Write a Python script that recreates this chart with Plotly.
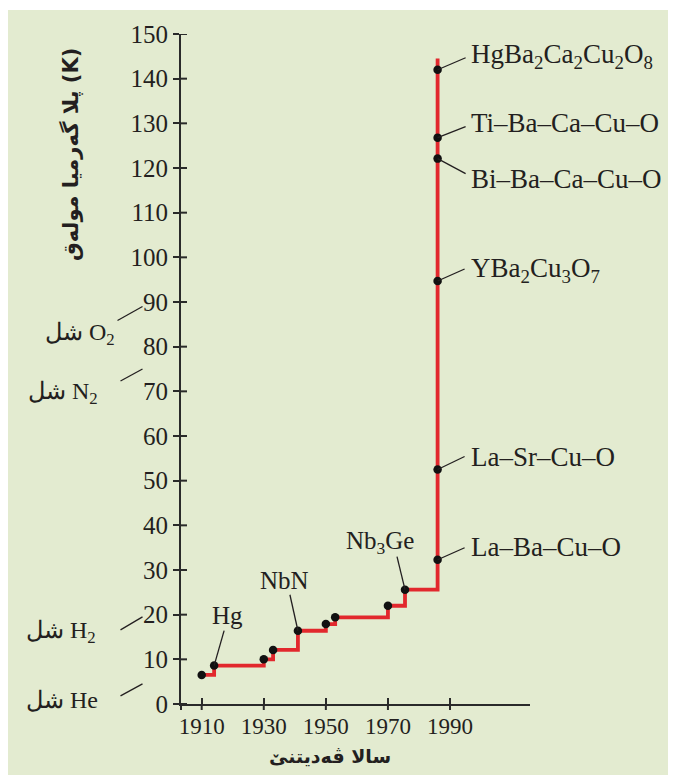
import plotly.graph_objects as go

# ---------------- data ----------------
record_years = [1910, 1914, 1930, 1933, 1941, 1950, 1953, 1970, 1975.5,
                1986, 1986, 1986, 1986, 1986, 1986]
record_temps = [6.5, 8.6, 10.0, 12.1, 16.4, 17.9, 19.4, 22.0, 25.6,
                32.3, 52.5, 94.7, 122.1, 126.8, 142.0]
line_top = 144.5

named_labels = ["Hg", "NbN", "Nb<sub>3</sub>Ge",
                "La–Ba–Cu–O", "La–Sr–Cu–O", "YBa<sub>2</sub>Cu<sub>3</sub>O<sub>7</sub>",
                "Bi–Ba–Ca–Cu–O", "Ti–Ba–Ca–Cu–O",
                "HgBa<sub>2</sub>Ca<sub>2</sub>Cu<sub>2</sub>O<sub>8</sub>"]
named_index = [1, 4, 8, 9, 10, 11, 12, 13, 14]

liquid_labels = ["شل He", "شل H<sub>2</sub>", "شل N<sub>2</sub>", "شل O<sub>2</sub>"]
liquid_temps = [4.5, 19.5, 75.0, 89.0]

x_ticks = [1910, 1930, 1950, 1970, 1990]
y_ticks = list(range(0, 151, 10))

y_title = "پلا گەرمیا مولەق (<b>K</b>)"
x_title = "سالا ڤەدیتنێ"

# ---------------- style ----------------
BG = "#e3ebd0"
INK = "#231f20"
AX = "#2a2a2a"
RED = "#e2282d"
SERIF = "Liberation Serif, Times New Roman, serif"
ARAB = "DejaVu Sans, Noto Sans, sans-serif"

L_REF, B_REF = 181, 704
W, H = 349, 670
FIG_W, FIG_H = 668, 767          # page body adds an 8px margin
L, T = L_REF - 8, 26
R, B = FIG_W - L - W, FIG_H - T - H
X_RANGE = [1910 - 20.7 / 3.104, 1910 + 328.3 / 3.104]
TICK = 6


def px_x(px):
    return (px - L_REF) / W


def px_y(py):
    return (B_REF - py) / H


fig = go.Figure()

fig.add_trace(go.Scatter(
    x=record_years + [record_years[-1]], y=record_temps + [line_top],
    mode="lines", line=dict(color=RED, width=3.8, shape="hv"),
    hoverinfo="skip", showlegend=False))
fig.add_trace(go.Scatter(
    x=record_years, y=record_temps, mode="markers",
    marker=dict(color="#111111", size=8.5), showlegend=False))

ann = []
shapes = [dict(type="line", xref="paper", yref="paper", layer="above",
               x0=0, x1=0, ysizemode="pixel", yanchor=0, y0=0, y1=-TICK,
               line=dict(color=AX, width=2))]
# inner halves of the crossing tick marks
for v in y_ticks:
    shapes.append(dict(type="line", xref="paper", yref="y", layer="above",
                       xsizemode="pixel", xanchor=0, x0=0, x1=TICK, y0=v, y1=v,
                       line=dict(color=AX, width=2)))
for v in x_ticks:
    shapes.append(dict(type="line", xref="x", yref="paper", layer="above",
                       ysizemode="pixel", yanchor=0, y0=0, y1=-TICK, x0=v, x1=v,
                       line=dict(color=AX, width=2)))


def leader(xref, x, yref, y, dx, dy):
    # dx, dy: pixel offset of tail from head (dy positive = down)
    return dict(type="line", xref=xref, yref=yref, layer="above",
                xsizemode="pixel", xanchor=x, x0=0, x1=dx,
                ysizemode="pixel", yanchor=y, y0=0, y1=-dy,
                line=dict(color=INK, width=1.3))


label_style = [  # (text x shift, text y shift, leader dx, leader dy, anchor)
    (13, 50, 10, -35, "center"),
    (-13, 50, -8, -36, "center"),
    (-25, 47, -8, -33, "center"),
    (31, 12.5, 27, -12, "left"),
    (31, 12.5, 27, -13, "left"),
    (31, 11, 27, -12, "left"),
    (31, -20, 28, 15, "left"),
    (31, 15, 28, -11, "left"),
    (31, 14, 28, -12, "left"),
]
for txt, idx, (xs, ys, dx, dy, xa) in zip(named_labels, named_index, label_style):
    x, y = record_years[idx], record_temps[idx]
    fs = 25 if xa == "center" else 27
    ann.append(dict(x=x, y=y, xref="x", yref="y", text=txt, showarrow=False,
                    xanchor=xa, yanchor="middle", xshift=xs, yshift=ys,
                    font=dict(family=SERIF, size=fs, color=INK)))
    shapes.append(leader("x", x, "y", y, dx, dy))

head_x = px_x(142.5)
liquid_style = [  # (text right px, text y shift, leader dx, leader dy)
    (100, -16, -22, 12),
    (98, -15, -22, 13),
    (100, -24, -22, 12),
    (117, -28, -25, 14),
]
for txt, val, (rx, ys, dx, dy) in zip(liquid_labels, liquid_temps, liquid_style):
    ann.append(dict(x=px_x(rx), y=val, xref="paper", yref="y", text=txt,
                    showarrow=False, xanchor="right", yanchor="middle", yshift=ys,
                    font=dict(family=SERIF, size=24, color=INK)))
    shapes.append(leader("paper", head_x, "y", val, dx, dy))

ann.append(dict(x=px_x(70), y=px_y(155), xref="paper", yref="paper",
                text="<b>" + y_title + "</b>", textangle=-90, showarrow=False,
                xanchor="center", yanchor="middle",
                font=dict(family=ARAB, size=21, color=INK)))
ann.append(dict(x=px_x(330), y=px_y(756), xref="paper", yref="paper",
                text="<b>" + x_title + "</b>", showarrow=False,
                xanchor="center", yanchor="middle",
                font=dict(family=ARAB, size=19, color=INK)))

base = dict(showgrid=False, zeroline=False, tickwidth=2, tickcolor=AX,
            ticklen=TICK, showline=True, linecolor=AX, linewidth=2)

fig.update_layout(
    width=FIG_W, height=FIG_H,
    margin=dict(l=L, r=R, t=T, b=B, pad=0),
    paper_bgcolor=BG, plot_bgcolor=BG,
    showlegend=False,
    xaxis=dict(range=X_RANGE, tickvals=x_ticks, ticktext=[str(v) for v in x_ticks],
               ticks="inside",
               tickfont=dict(family=SERIF, size=23, color=INK), **base),
    yaxis=dict(range=[0, 150], tickvals=y_ticks, ticks="outside",
               tickfont=dict(family=SERIF, size=25, color=INK), **base),
    annotations=ann,
    shapes=shapes + [dict(type="rect", xref="paper", yref="paper", layer="below",
                          x0=px_x(0), x1=px_x(700), y0=px_y(10), y1=px_y(0),
                          fillcolor="white", line=dict(width=0))],
)

fig.write_html("out.html")
